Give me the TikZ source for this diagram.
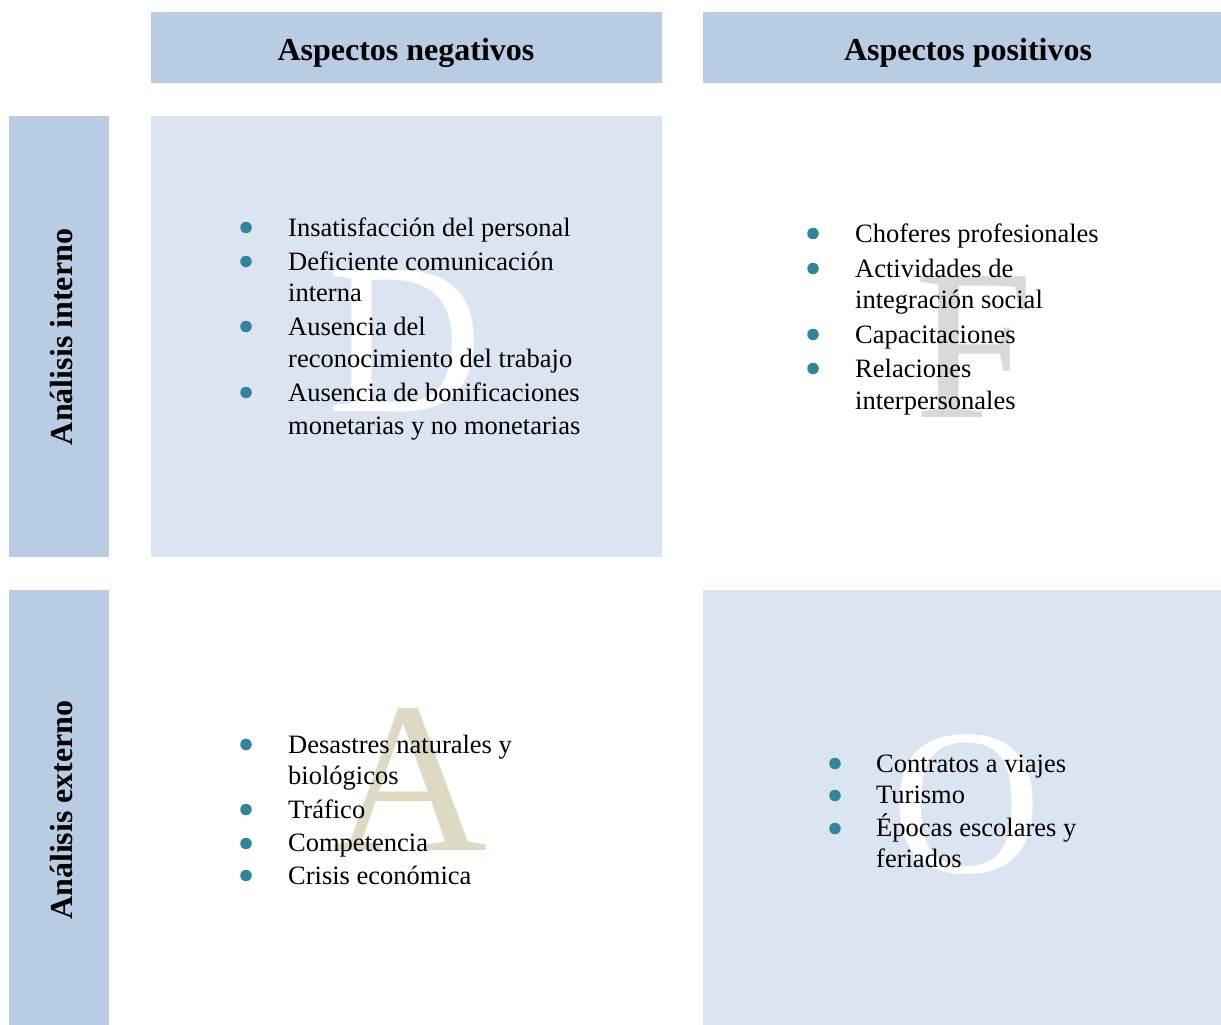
\documentclass[tikz,border=0pt]{standalone}
\usepackage{fontspec}
\setmainfont{Liberation Serif}
\definecolor{hdrblue}{HTML}{B8CCE4}
\definecolor{lightblue}{HTML}{DBE5F1}
\definecolor{bul}{HTML}{31849B}
\definecolor{tanc}{HTML}{DDD9C3}
\definecolor{lgray}{HTML}{D9D9D9}
\begin{document}
\begin{tikzpicture}[x=1pt,y=-1pt,
 hdrbox/.style={fill=hdrblue},
 cellbox/.style={fill=lightblue},
 txt/.style={anchor=base west,inner sep=0pt,font=\fontsize{26.5}{32}\selectfont},
 hdrtxt/.style={anchor=base,inner sep=0pt,font=\fontsize{32}{38}\selectfont\bfseries},
 big/.style={anchor=base,inner sep=0pt,font=\fontsize{215}{215}\selectfont},
 dot/.style={circle,fill=bul,inner sep=0pt,minimum size=11.5pt}]
\useasboundingbox (0,0) rectangle (1221,1025);
\fill[white] (0,0) rectangle (1221,1025);
% boxes
\fill[hdrbox] (151,12) rectangle (662,83);
\fill[hdrbox] (703,12) rectangle (1221,83);
\fill[hdrbox] (9,116) rectangle (109,557);
\fill[hdrbox] (9,590) rectangle (109,1025);
\fill[cellbox] (151,116) rectangle (662,557);
\fill[cellbox] (703,590) rectangle (1221,1025);
% headers
\node[hdrtxt] (hneg) at (406,60) {Aspectos negativos};
\node[hdrtxt] (hpos) at (968,60) {Aspectos positivos};
\node[hdrtxt,rotate=90,anchor=center] (lint) at (62,337) {Análisis interno};
\node[hdrtxt,rotate=90,anchor=center] (lext) at (62,810) {Análisis externo};
% big letters
\node[big,text=white] (bigD) at (405,411) {D};
\node[big,text=lgray] (bigF) at (974,417) {F};
\node[big,text=tanc] (bigA) at (410,850) {A};
\node[big,text=white,font=\fontsize{208}{208}\selectfont] (bigO) at (967,872) {O};
% D items
\node[dot] (db1) at (246,227.5) {};
\node[dot] (db2) at (246,261.5) {};
\node[dot] (db3) at (246,326.5) {};
\node[dot] (db4) at (246,392.5) {};
\node[txt] (d1) at (288,236) {Insatisfacción del personal};
\node[txt] (d2) at (288,270) {Deficiente comunicación};
\node[txt] (d2b) at (288,301) {interna};
\node[txt] (d3) at (288,335) {Ausencia del};
\node[txt] (d3b) at (288,367) {reconocimiento del trabajo};
\node[txt] (d4) at (288,401) {Ausencia de bonificaciones};
\node[txt] (d4b) at (288,434) {monetarias y no monetarias};
% F items
\node[dot] (fb1) at (813,233.5) {};
\node[dot] (fb2) at (813,268.5) {};
\node[dot] (fb3) at (813,334.5) {};
\node[dot] (fb4) at (813,368.5) {};
\node[txt] (f1) at (855,242) {Choferes profesionales};
\node[txt] (f2) at (855,277) {Actividades de};
\node[txt] (f2b) at (855,308) {integración social};
\node[txt] (f3) at (855,343) {Capacitaciones};
\node[txt] (f4) at (855,377) {Relaciones};
\node[txt] (f4b) at (855,409) {interpersonales};
% A items
\node[dot] (ab1) at (246,744.5) {};
\node[dot] (ab2) at (246,809.5) {};
\node[dot] (ab3) at (246,843.5) {};
\node[dot] (ab4) at (246,875.5) {};
\node[txt] (a1) at (288,753) {Desastres naturales y};
\node[txt] (a1b) at (288,784) {biológicos};
\node[txt] (a2) at (288,818) {Tráfico};
\node[txt] (a3) at (288,851) {Competencia};
\node[txt] (a4) at (288,884) {Crisis económica};
% O items
\node[dot] (ob1) at (835,763.5) {};
\node[dot] (ob2) at (835,795.5) {};
\node[dot] (ob3) at (835,828.5) {};
\node[txt] (o1) at (876,772) {Contratos a viajes};
\node[txt] (o2) at (876,803) {Turismo};
\node[txt] (o3) at (876,836) {Épocas escolares y};
\node[txt] (o3b) at (876,867) {feriados};
\end{tikzpicture}
\end{document}
